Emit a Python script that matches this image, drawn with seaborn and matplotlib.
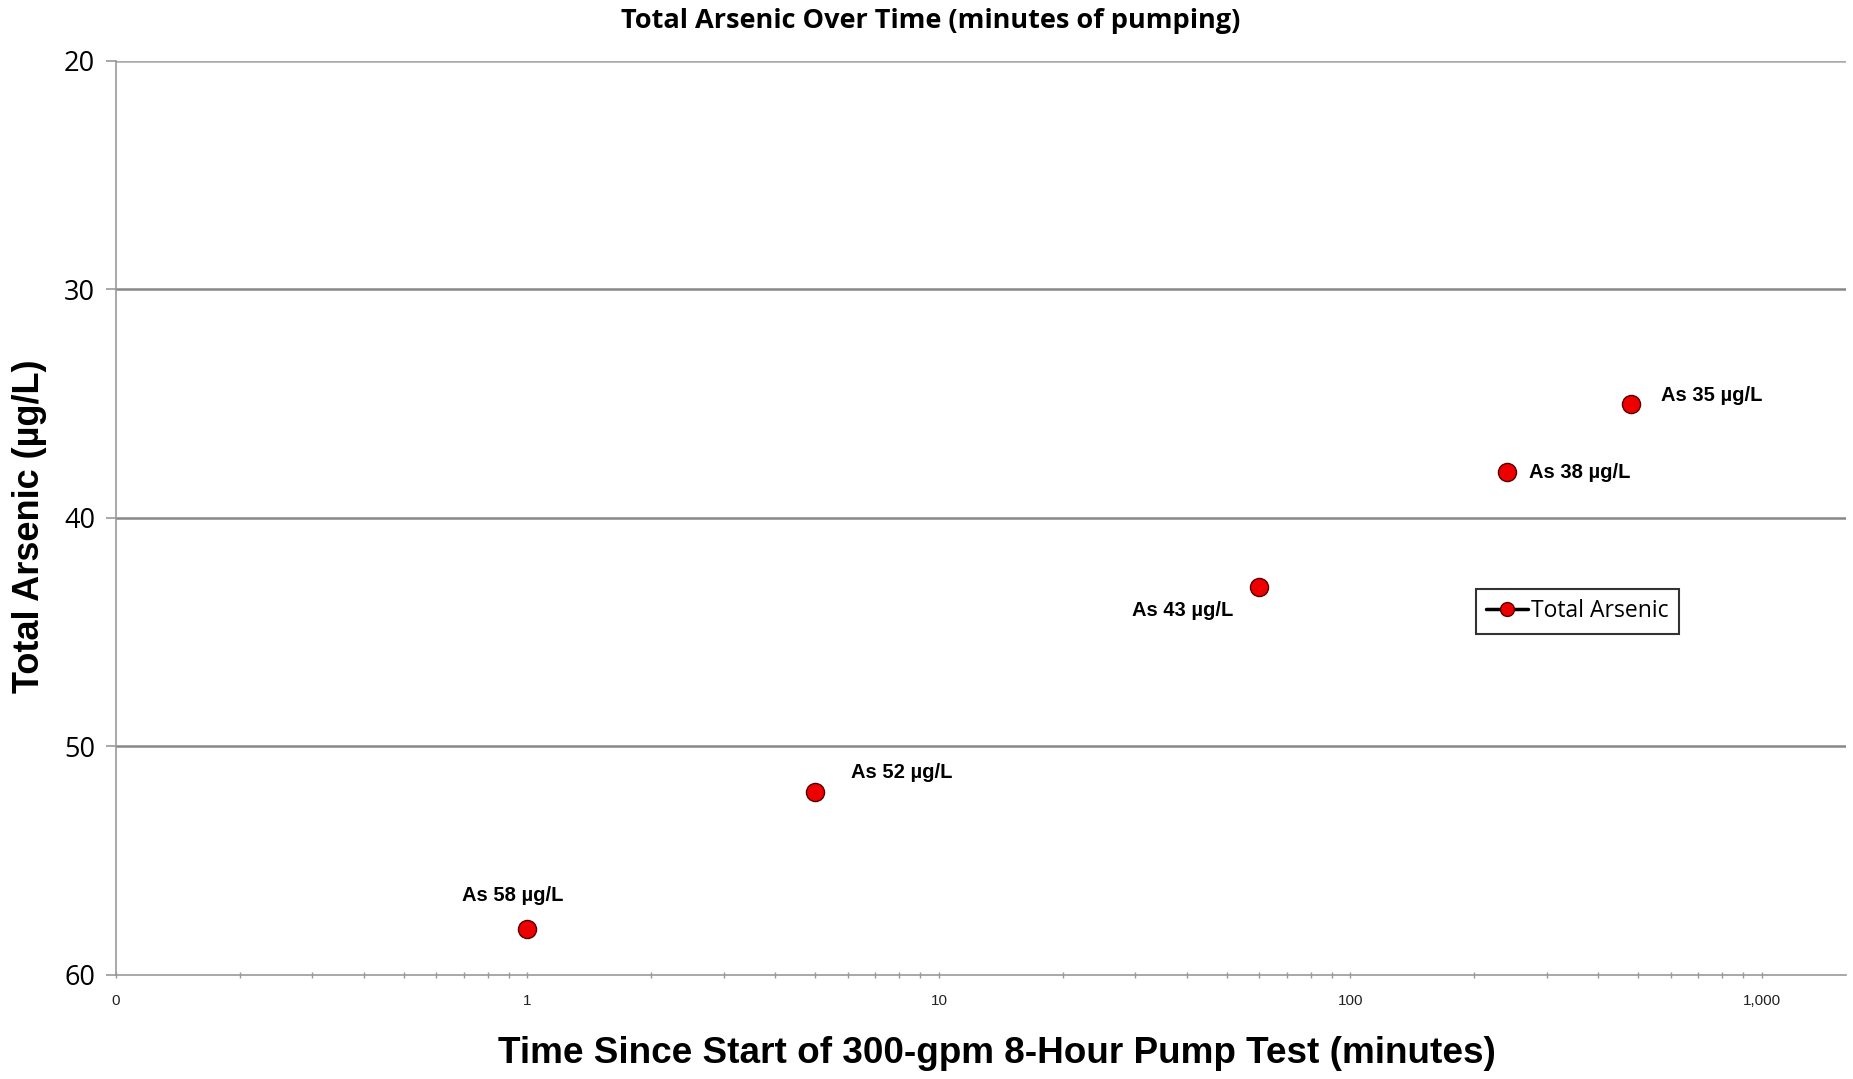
import matplotlib
matplotlib.use('Agg')
import matplotlib.pyplot as plt
import seaborn as sns
import pandas as pd
from matplotlib.lines import Line2D
from matplotlib.ticker import FixedLocator, FixedFormatter, LogLocator, NullFormatter

# data
minutes = [1, 5, 60, 240, 480]
arsenic = [58, 52, 43, 38, 35]
point_labels = ["As 58 µg/L", "As 52 µg/L", "As 43 µg/L", "As 38 µg/L", "As 35 µg/L"]
x_ticks = [0.1, 1, 10, 100, 1000]
x_tick_labels = ["0", "1", "10", "100", "1,000"]
y_ticks = [20, 30, 40, 50, 60]

df = pd.DataFrame({"minutes": minutes, "arsenic": arsenic})

sns.set_style("white")
plt.rcParams['font.family'] = ['Liberation Sans', 'DejaVu Sans']
plt.rcParams['text.color'] = 'black'

fig = plt.figure(figsize=(18.53, 10.79), dpi=100)
ax = fig.add_axes([0.0626, 0.0964, 0.9336, 0.8471])

sns.scatterplot(data=df, x="minutes", y="arsenic", ax=ax, s=170, color="#ee0000",
                edgecolor="#550000", linewidth=1, legend=False, zorder=5)

ax.set_xscale("log")
ax.set_xlim(0.1, 1600)
ax.set_ylim(60, 20)

# axis styling
for side in ["right", "top"]:
    ax.spines[side].set_visible(False)
ax.spines["left"].set_color("#999999")
ax.spines["left"].set_linewidth(1.2)
ax.spines["bottom"].set_color("#999999")
ax.spines["bottom"].set_linewidth(1.2)

ax.yaxis.set_major_locator(FixedLocator(y_ticks))
ax.set_yticklabels([str(v) for v in y_ticks], fontfamily="Open Sans", fontsize=19.5, color="black")
ax.tick_params(axis="y", direction="out", length=7, width=1.2, color="#999999", pad=8, left=True)
for v in y_ticks[:-1]:
    ax.axhline(v, color="#888888" if v != 20 else "#aaaaaa", lw=1.8, zorder=1)

ax.xaxis.set_major_locator(FixedLocator(x_ticks))
ax.xaxis.set_major_formatter(FixedFormatter(x_tick_labels))
ax.xaxis.set_minor_locator(LogLocator(base=10, subs=range(2, 10), numticks=20))
ax.xaxis.set_minor_formatter(NullFormatter())
ax.tick_params(axis="x", which="both", direction="inout", length=5, width=1, color="#999999",
               labelsize=11, labelcolor="#222222", pad=11, bottom=True)
ax.set_xlabel("")
ax.set_ylabel("")

# point labels
offsets = [(-11, 24, "center"), (26, 14, "left"), (-19, -17, "right"), (16, 0, "left"), (22, 6, "left")]
for x, y, lab, (dx, dy, ha) in zip(minutes, arsenic, point_labels, offsets):
    ax.annotate(lab, (x, y), xytext=(dx, dy), textcoords="offset points",
                ha=ha, va="center", fontsize=14.5, fontweight="bold", color="black")

handle = Line2D([0], [0], color="black", lw=2.5, marker="o", markersize=10,
                markerfacecolor="#ee0000", markeredgecolor="#550000")
leg = ax.legend([handle], ["Total Arsenic"], loc="center left", bbox_to_anchor=(0.786, 0.398),
                borderaxespad=0, frameon=True, fancybox=False, handlelength=1.85,
                handletextpad=0.1, borderpad=0.45, prop={"family": "Open Sans", "size": 16.5})
leg.get_frame().set_edgecolor("black")
leg.get_frame().set_linewidth(1.5)

fig.text(0.5024, 0.9805, "Total Arsenic Over Time (minutes of pumping)", ha="center", va="center",
         fontsize=19.5, fontweight="bold", fontfamily="Open Sans")
fig.text(0.538, 0.024, "Time Since Start of 300-gpm 8-Hour Pump Test (minutes)", ha="center",
         va="center", fontsize=26.6, fontweight="bold")
fig.text(0.016, 0.5125, "Total Arsenic (µg/L)", ha="center", va="center", rotation=90,
         fontsize=26, fontweight="bold")

fig.savefig("out.png", dpi=100)
